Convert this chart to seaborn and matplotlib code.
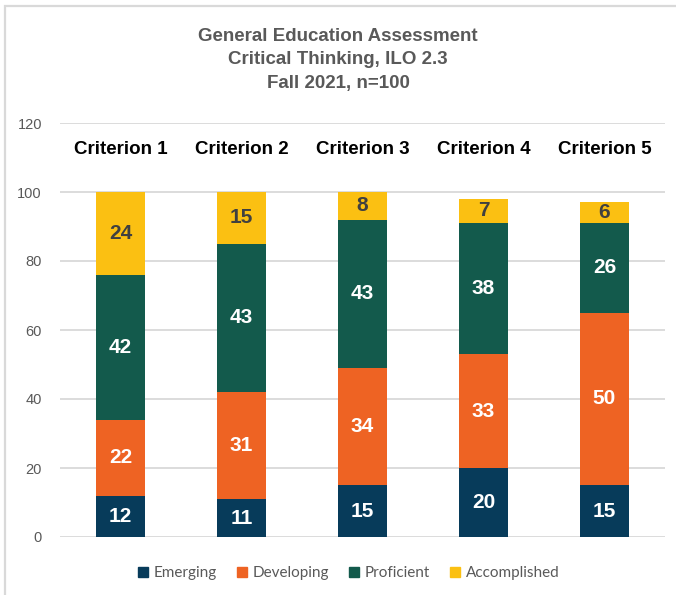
import matplotlib
matplotlib.use("Agg")
import matplotlib.pyplot as plt
from matplotlib.lines import Line2D
from matplotlib.patches import Rectangle
import seaborn as sns
import numpy as np
import pandas as pd

categories = ["Criterion 1", "Criterion 2", "Criterion 3", "Criterion 4", "Criterion 5"]
emerging = [12, 11, 15, 20, 15]
developing = [22, 31, 34, 33, 50]
proficient = [42, 43, 43, 38, 26]
accomplished = [24, 15, 8, 7, 6]

series_names = ["Emerging", "Developing", "Proficient", "Accomplished"]
series_values = [emerging, developing, proficient, accomplished]
colors = ["#073B5A", "#EE6323", "#135A4C", "#FBC012"]
label_colors = ["white", "white", "white", "#404040"]

sns.set_theme(style="white")
arial_like = ["Liberation Sans", "DejaVu Sans"]
plt.rcParams["font.family"] = arial_like

W, H = 676, 595
fig = plt.figure(figsize=(W / 100, H / 100), dpi=100)

# light frame around the chart (right and bottom edges run off the canvas)
fig.patches.append(Rectangle((5 / W, -0.02), 1.05, 1.02 - 6 / H,
                             transform=fig.transFigure, fill=False,
                             edgecolor="#D9D9D9", linewidth=1.6, zorder=0))

ax = fig.add_axes([60 / W, 1 - 537 / H, 605 / W, 414 / H])

df = pd.DataFrame({"category": categories})
bottom = np.zeros(len(categories))
for name, vals, col, lcol in zip(series_names, series_values, colors, label_colors):
    df[name] = vals
    sns.barplot(data=df, x="category", y=name, color=col, width=0.4,
                bottom=bottom, ax=ax, saturation=1, linewidth=0, zorder=3)
    cont = ax.containers[-1]
    ax.bar_label(cont, labels=[str(v) for v in vals], label_type="center",
                 color=lcol, fontsize=15, fontweight="bold")
    bottom = bottom + np.array(vals)

ax.set_ylim(0, 120)
ax.set_xlim(-0.5, len(categories) - 0.5)
ax.set_yticks(range(0, 121, 20))
ax.yaxis.grid(True, color="#D9D9D9", linewidth=1.3, zorder=0)
ax.set_axisbelow(True)
for s in ax.spines.values():
    s.set_visible(False)
ax.set_xticks([])
ax.set_xlabel("")
ax.set_ylabel("")
ax.tick_params(axis="y", length=0, labelsize=10.5, labelcolor="#595959", pad=13)

for i, cat in enumerate(categories):
    ax.text(i, 112.2, cat, ha="center", va="center", fontsize=13.5,
            fontweight="bold", color="black")

fig.text(0.5, 1 - 60 / H,
         "General Education Assessment\nCritical Thinking, ILO 2.3\nFall 2021, n=100",
         ha="center", va="center", fontsize=13.5, fontweight="bold", color="#595959",
         linespacing=1.5)

handles = [Line2D([0], [0], marker="s", linestyle="", markersize=7.5,
                  markerfacecolor=c, markeredgecolor=c) for c in colors]
fig.legend(handles, series_names, loc="center", bbox_to_anchor=(0.515, 1 - 573 / H), ncol=4,
           frameon=False, prop={"family": ["Lato", "DejaVu Sans"], "size": 11},
           labelcolor="#595959", handlelength=0.8, handletextpad=0.3,
           columnspacing=1.25)

fig.savefig("out.png", dpi=100)
